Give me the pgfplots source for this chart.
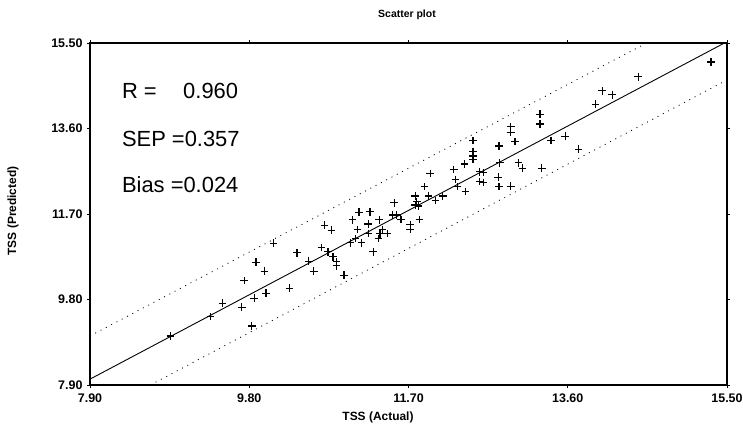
\documentclass[border=0pt]{standalone}
\usepackage{pgfplots}
\pgfplotsset{compat=1.18}
\usepackage{fontspec}
\setmainfont{Liberation Sans}
\newfontfamily\tickfont{Liberation Sans Bold}
\newfontfamily\labfont{Liberation Sans Bold}
\begin{document}
\begin{tikzpicture}
\path[use as bounding box] (0,0) rectangle (743bp,430bp);
\begin{axis}[
  at={(90bp,45bp)}, anchor=south west,
  scale only axis, width=637bp, height=342bp,
  xmin=7.9, xmax=15.5, ymin=7.9, ymax=15.5,
  xtick={7.9,9.8,11.7,13.6,15.5},
  ytick={7.9,9.8,11.7,13.6,15.5},
  tick align=outside, major tick length=3bp,
  axis line style={line width=1.2pt},
  tick style={line width=0.8pt, black},
  /pgf/number format/.cd, fixed, fixed zerofill, precision=2, assume math mode=true,
  /pgfplots/.cd,
  tick label style={font=\tickfont\fontsize{12.5}{15}\selectfont},
  xticklabel style={yshift=-2bp},
  yticklabel style={xshift=-1bp},
  clip=true,
]
\addplot[black, line width=0.9pt] coordinates {(7.9,8.03) (15.5,15.53)};
\addplot[black, line width=0.8pt, dash pattern=on 1pt off 5pt] coordinates {(7.9,8.99) (14.54,15.5)};
\addplot[black, line width=0.8pt, dash pattern=on 1pt off 5pt] coordinates {(8.62,7.9) (15.5,14.68)};
\addplot[only marks, mark=+, mark size=3.8bp, mark options={line width=1.2pt, black}] coordinates {
(8.86,8.99) (9.34,9.42) (9.48,9.72) (9.71,9.63) (9.74,10.22) (9.86,9.83)
(9.83,9.21) (9.88,10.63) (9.98,10.43) (10.00,9.94) (10.09,11.05) (10.28,10.05)
(10.37,10.84) (10.51,10.65) (10.57,10.43) (10.66,10.96) (10.70,11.45) (10.78,11.34)
(10.74,10.86) (10.80,10.75) (10.84,10.64) (10.84,10.55) (10.93,10.34) (11.01,11.06)
(11.03,11.57) (11.11,11.74) (11.09,11.36) (11.14,11.06) (11.07,11.16) (11.22,11.48)
(11.24,11.75) (11.22,11.27) (11.28,10.86) (11.35,11.57) (11.39,11.36) (11.36,11.26)
(11.34,11.16) (11.45,11.27) (11.51,11.68) (11.53,11.95) (11.56,11.68) (11.61,11.58)
(11.72,11.47) (11.72,11.36) (11.78,12.10) (11.78,11.90) (11.80,11.97) (11.82,11.88)
(11.83,11.58) (11.89,12.31) (11.94,12.10) (12.02,12.00) (12.11,12.10) (11.96,12.60)
(12.24,12.69) (12.26,12.47) (12.28,12.31) (12.37,12.81) (12.38,12.20) (12.47,13.33)
(12.47,13.09) (12.47,12.99) (12.47,12.92) (12.55,12.64) (12.59,12.62) (12.55,12.42)
(12.59,12.40) (12.78,13.21) (12.79,12.84) (12.77,12.52) (12.78,12.31) (12.92,12.32)
(12.92,13.64) (12.92,13.51) (12.97,13.31) (13.01,12.84) (13.06,12.72) (13.27,13.92)
(13.27,13.70) (13.29,12.72) (13.40,13.33) (13.57,13.43) (13.73,13.14) (13.93,14.14)
(14.01,14.44) (14.13,14.35) (14.44,14.75) (15.31,15.08)
};
\node[anchor=base west, font=\fontsize{22}{26}\selectfont, inner sep=0pt] at (axis cs:8.28,14.26) {R =};
\node[anchor=base west, font=\fontsize{22}{26}\selectfont, inner sep=0pt] at (axis cs:9.01,14.26) {0.960};
\node[anchor=base west, font=\fontsize{22}{26}\selectfont, inner sep=0pt] at (axis cs:8.28,13.21) {SEP =0.357};
\node[anchor=base west, font=\fontsize{22}{26}\selectfont, inner sep=0pt] at (axis cs:8.28,12.17) {Bias =0.024};
\end{axis}
\node[font=\labfont\fontsize{10.5}{12}\selectfont] at (407bp,415bp) {Scatter plot};
\node[font=\labfont\fontsize{12}{14}\selectfont] at (378bp,13bp) {TSS (Actual)};
\node[font=\labfont\fontsize{12}{14}\selectfont, rotate=90] at (13bp,219bp) {TSS (Predicted)};
\end{tikzpicture}
\end{document}
